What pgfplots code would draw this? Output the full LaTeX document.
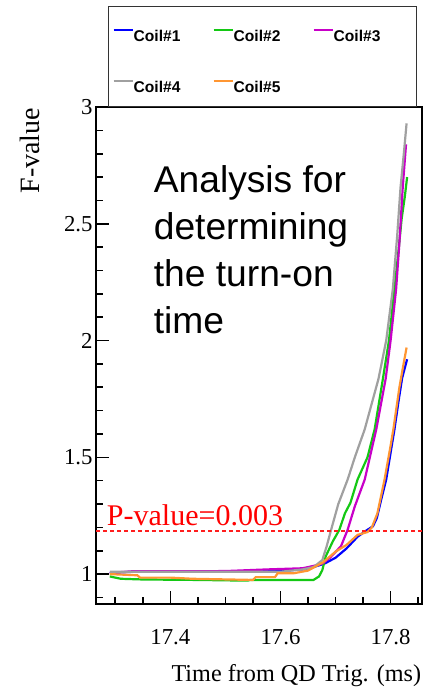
\documentclass[border=0pt]{standalone}
\usepackage{fontspec}
\setmainfont{Liberation Serif}
\newfontfamily\arial{Liberation Sans}
\usepackage{pgfplots}
\pgfplotsset{compat=1.18}
\definecolor{cblue}{RGB}{0,0,255}
\definecolor{cgreen}{RGB}{20,200,20}
\definecolor{cmag}{RGB}{200,0,200}
\definecolor{cgray}{RGB}{160,160,160}
\definecolor{corange}{RGB}{255,150,50}
\definecolor{cred}{RGB}{255,30,30}
\begin{document}
\begin{tikzpicture}
\path[use as bounding box] (-48pt,-43.5pt) rectangle (168.5pt,302pt);
\begin{axis}[
  scale only axis,
  width=163pt, height=248.5pt,
  xmin=17.265, xmax=17.857,
  ymin=0.872, ymax=3.0,
  axis line style={black, line width=0.8pt},
  every axis/.append style={line width=0.8pt},
  xtick pos=bottom, ytick pos=left, tick align=inside,
  xtick={17.4,17.6,17.8},
  xticklabels={17.4,17.6,17.8},
  minor xtick={17.3,17.35,17.45,17.5,17.55,17.65,17.7,17.75,17.85},
  ytick={1,1.5,2,2.5,3},
  yticklabels={1,1.5,2,2.5,3},
  minor ytick={0.9,1.1,1.2,1.3,1.4,1.6,1.7,1.8,1.9,2.1,2.2,2.3,2.4,2.6,2.7,2.8,2.9},
  major tick length=6.5pt, minor tick length=3.5pt,
  major tick style={black, line width=0.8pt},
  minor tick style={black, line width=0.8pt},
  /pgf/number format/assume math mode=true,
  ticklabel style={font=\fontsize{11.4}{13}\selectfont},
  xticklabel style={yshift=-9pt},
  yticklabel style={xshift=2pt},
  xlabel={Time from QD Trig. (ms)},
  xlabel style={at={(axis description cs:1,0)}, anchor=north east, inner sep=0pt, yshift=-30pt, font=\fontsize{12.1}{14}\selectfont},
  ylabel={F-value},
  ylabel style={at={(axis description cs:-0.2025,1)}, anchor=east, rotate=0, inner sep=0pt, font=\fontsize{14}{16}\selectfont},
  legend columns=3,
  legend cell align=left,
  legend image code/.code={\draw[#1, line width=1pt] (0pt,0.3pt) -- (9.5pt,0.3pt);},
  legend style={at={(axis description cs:0.0368,1)}, anchor=south west,
    draw=black!80, line width=0.7pt, fill=white,
    inner xsep=2pt, inner ysep=2pt, column sep=0pt, row sep=5.2pt,
    font=\arial\bfseries\fontsize{7.8}{9}\selectfont,
    nodes={text width=39.5pt, inner xsep=0pt, inner ysep=1pt, text height=14.7pt, text depth=3.7pt, align=left}},
  every axis plot/.append style={line width=1.1pt},
]
\addplot[cblue] coordinates {(17.29,1.005) (17.35,1.012) (17.45,1.012) (17.55,1.01) (17.60,1.015) (17.64,1.02) (17.66,1.03) (17.68,1.045) (17.70,1.07) (17.72,1.11) (17.74,1.16) (17.755,1.185) (17.768,1.205) (17.775,1.24) (17.783,1.32) (17.792,1.405) (17.80,1.52) (17.807,1.62) (17.815,1.75) (17.821,1.84) (17.83,1.92)};
\addlegendentry{Coil\#1}
\addplot[cgreen] coordinates {(17.29,0.99) (17.31,0.98) (17.35,0.977) (17.45,0.975) (17.54,0.972) (17.545,0.975) (17.66,0.975) (17.67,0.99) (17.676,1.017) (17.682,1.075) (17.695,1.14) (17.707,1.19) (17.717,1.26) (17.727,1.305) (17.74,1.405) (17.758,1.50) (17.771,1.62) (17.786,1.836) (17.797,2.0) (17.807,2.22) (17.815,2.40) (17.82,2.52) (17.826,2.62) (17.83,2.70)};
\addlegendentry{Coil\#2}
\addplot[cmag] coordinates {(17.29,1.005) (17.33,1.012) (17.40,1.012) (17.50,1.013) (17.575,1.02) (17.64,1.025) (17.66,1.035) (17.676,1.045) (17.69,1.07) (17.71,1.12) (17.722,1.19) (17.735,1.29) (17.753,1.405) (17.774,1.62) (17.791,1.836) (17.80,2.0) (17.81,2.22) (17.816,2.42) (17.822,2.655) (17.828,2.84)};
\addlegendentry{Coil\#3}
\addplot[cgray] coordinates {(17.29,1.01) (17.40,1.01) (17.50,1.01) (17.60,1.01) (17.64,1.02) (17.66,1.03) (17.676,1.06) (17.684,1.12) (17.692,1.19) (17.705,1.30) (17.722,1.405) (17.735,1.50) (17.753,1.62) (17.778,1.836) (17.792,2.0) (17.804,2.22) (17.812,2.45) (17.818,2.655) (17.824,2.80) (17.829,2.93)};
\addlegendentry{Coil\#4}
\addplot[corange] coordinates {(17.29,1.0) (17.34,0.995) (17.345,0.985) (17.40,0.985) (17.44,0.98) (17.55,0.975) (17.555,0.987) (17.59,0.987) (17.595,1.004) (17.625,1.004) (17.65,1.015) (17.677,1.05) (17.70,1.096) (17.72,1.125) (17.74,1.168) (17.758,1.18) (17.766,1.20) (17.776,1.26) (17.789,1.405) (17.80,1.55) (17.805,1.62) (17.816,1.80) (17.822,1.88) (17.829,1.97)};
\addlegendentry{Coil\#5}
\addplot[color=cred, line width=0.8pt, dash pattern=on 2pt off 1.5pt, forget plot] coordinates {(17.265,1.184) (17.857,1.184)};
\node[anchor=base west, text=red, inner sep=0pt, font=\fontsize{15}{18}\selectfont] at (axis cs:17.2835,1.21) {P-value=0.003};
\node[anchor=north west, inner sep=0pt, align=left, font=\arial\fontsize{18.6}{23.5}\selectfont] at (axis description cs:0.175,0.883) {Analysis for\\determining\\the turn-on\\time};
\end{axis}
\end{tikzpicture}
\end{document}
